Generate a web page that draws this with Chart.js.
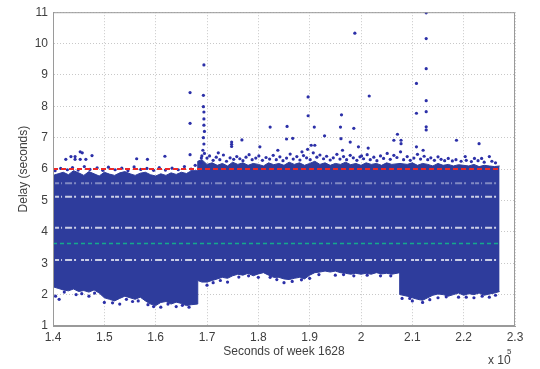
<!DOCTYPE html>
<html>
<head>
<meta charset="utf-8">
<script src="https://cdn.jsdelivr.net/npm/chart.js@4/dist/chart.umd.min.js"></script>
<style>
  html, body { margin: 0; padding: 0; background: #fff; }
  #wrap { width: 540px; height: 369px; }
</style>
</head>
<body>
<div id="wrap"><canvas id="delayChart"></canvas></div>
<script>
// x values are in units of 1e5 seconds of week 1628

// Envelope of the dense delay cloud (lower / upper edge, seconds)
const cloudX = [
  1.40, 1.41, 1.42, 1.43, 1.44, 1.45, 1.46, 1.47, 1.48, 1.49, 1.50, 1.51, 1.52, 1.53,
  1.54, 1.55, 1.56, 1.57, 1.58, 1.59, 1.60, 1.61, 1.62, 1.63, 1.64, 1.65, 1.66, 1.67,
  1.682, 1.682,
  1.69, 1.70, 1.71, 1.72, 1.73, 1.74, 1.75, 1.76, 1.77, 1.78, 1.79, 1.80, 1.81, 1.82,
  1.83, 1.84, 1.85, 1.86, 1.87, 1.88, 1.89, 1.90, 1.91, 1.92, 1.93, 1.94, 1.95, 1.96,
  1.97, 1.98, 1.99, 2.00, 2.01, 2.02, 2.03, 2.04, 2.05, 2.06,
  2.076, 2.076,
  2.09, 2.10, 2.11, 2.12, 2.13, 2.14, 2.15, 2.16, 2.17, 2.18, 2.19, 2.20, 2.21, 2.22,
  2.23, 2.24, 2.25, 2.26, 2.27
];
const cloudLow = [
  2.25, 2.20, 2.15, 2.12, 2.18, 2.10, 2.13, 2.08, 2.15, 2.05, 1.90, 1.85, 1.80, 1.88,
  1.95, 1.90, 1.85, 1.92, 1.80, 1.70, 1.65, 1.75, 1.78, 1.70, 1.76, 1.72, 1.65, 1.68,
  1.70, 2.45,
  2.40, 2.40, 2.45, 2.50, 2.55, 2.52, 2.60, 2.65, 2.62, 2.68, 2.60, 2.66, 2.70, 2.62,
  2.55, 2.55, 2.50, 2.48, 2.52, 2.55, 2.50, 2.62, 2.70, 2.72, 2.75, 2.72, 2.75, 2.70,
  2.68, 2.65, 2.68, 2.65, 2.68, 2.65, 2.70, 2.66, 2.68, 2.65,
  2.70, 2.00,
  1.95, 1.90, 1.85, 1.82, 1.90, 1.98, 2.02, 2.00, 1.95, 2.00, 2.05, 1.98, 2.03, 2.00,
  2.05, 1.98, 2.02, 2.05, 2.10
];
const cloudHigh = [
  5.80, 5.85, 5.90, 5.82, 5.95, 5.88, 5.80, 5.92, 5.85, 5.78, 5.90, 5.84, 5.80, 5.88,
  5.92, 5.85, 5.80, 5.87, 5.90, 5.82, 5.78, 5.85, 5.80, 5.88, 5.83, 5.90, 5.86, 5.95,
  5.95, 6.25,
  6.30, 6.15, 6.20, 6.12, 6.18, 6.10, 6.22, 6.15, 6.20, 6.12, 6.18, 6.15, 6.10, 6.20,
  6.14, 6.18, 6.12, 6.22, 6.15, 6.20, 6.12, 6.18, 6.25, 6.15, 6.20, 6.12, 6.18, 6.15,
  6.22, 6.14, 6.18, 6.12, 6.20, 6.15, 6.18, 6.12, 6.20, 6.15,
  6.18, 6.18,
  6.15, 6.20, 6.12, 6.18, 6.15, 6.10, 6.18, 6.12, 6.15, 6.10, 6.14, 6.12, 6.10, 6.15,
  6.08, 6.12, 6.10, 6.08, 6.10
];

// Sparse delay samples outside the dense cloud [x, delay]
const sparsePoints = [
  [1.988, 10.33], [1.694, 9.32], [1.667, 8.44], [1.693, 8.35], [1.693, 7.99], [1.694, 7.82],
  [1.667, 7.46], [1.897, 8.30], [1.897, 7.70], [1.962, 7.73], [1.823, 7.34], [1.856, 7.36],
  [1.909, 7.34], [1.960, 7.34], [1.986, 7.30], [1.929, 7.06], [1.855, 6.96], [1.867, 6.98],
  [1.768, 6.93], [1.667, 6.46], [1.803, 6.71], [1.748, 6.72], [1.748, 6.86],
  [2.127, 10.98], [2.127, 10.16], [2.127, 9.20], [2.108, 8.73], [2.016, 8.33], [2.127, 8.18],
  [2.108, 7.78], [2.127, 7.83], [2.127, 7.35], [2.127, 7.25], [2.071, 7.11], [2.186, 6.92],
  [2.230, 6.81], [2.108, 6.71], [2.064, 6.92], [2.078, 6.92], [2.078, 6.81], [2.014, 6.67],
  [2.121, 6.60], [2.203, 6.40], [2.221, 6.34], [2.235, 6.34], [2.250, 6.40],
  [1.453, 6.55], [1.457, 6.52], [1.425, 6.31], [1.435, 6.40], [1.443, 6.40], [1.443, 6.31],
  [1.453, 6.31], [1.464, 6.31], [1.476, 6.43], [1.563, 6.33], [1.584, 6.31], [1.618, 6.41],
  [1.694, 7.60], [1.694, 7.40], [1.695, 7.20], [1.693, 7.00], [1.694, 6.80], [1.692, 6.60],
  [1.695, 6.50], [1.722, 6.52], [1.838, 6.60], [1.903, 6.76], [1.910, 6.76], [1.896, 6.63],
  [1.885, 6.55], [1.961, 6.97], [1.979, 6.86], [1.964, 6.60], [1.995, 6.71], [2.001, 6.42],
  [1.748, 6.79],
  [1.700, 6.35], [1.705, 6.42], [1.712, 6.28], [1.718, 6.38], [1.725, 6.30], [1.732, 6.45],
  [1.738, 6.25], [1.745, 6.36], [1.752, 6.31], [1.758, 6.40], [1.764, 6.33], [1.770, 6.27],
  [1.776, 6.38], [1.782, 6.46], [1.788, 6.30], [1.795, 6.35], [1.801, 6.42], [1.808, 6.28],
  [1.815, 6.37], [1.822, 6.32], [1.829, 6.44], [1.835, 6.30], [1.842, 6.39], [1.848, 6.27],
  [1.855, 6.35], [1.862, 6.48], [1.868, 6.32], [1.875, 6.40], [1.881, 6.29], [1.888, 6.43],
  [1.894, 6.36], [1.901, 6.30], [1.907, 6.52], [1.914, 6.38], [1.920, 6.45], [1.927, 6.33],
  [1.933, 6.41], [1.940, 6.29], [1.946, 6.36], [1.953, 6.47], [1.959, 6.32], [1.966, 6.40],
  [1.972, 6.30], [1.979, 6.44], [1.985, 6.36], [1.992, 6.28], [1.998, 6.39], [2.005, 6.33],
  [2.012, 6.46], [2.018, 6.30], [2.025, 6.38], [2.031, 6.27], [2.038, 6.42], [2.044, 6.34],
  [2.051, 6.50], [2.057, 6.31], [2.064, 6.44], [2.070, 6.37], [2.077, 6.55], [2.083, 6.30],
  [2.090, 6.40], [2.096, 6.28], [2.103, 6.35], [2.110, 6.47], [2.116, 6.32], [2.123, 6.41],
  [2.130, 6.30], [2.136, 6.36], [2.143, 6.28], [2.150, 6.39], [2.156, 6.31], [2.163, 6.27],
  [2.170, 6.34], [2.178, 6.26], [2.185, 6.30], [2.195, 6.25], [2.205, 6.28], [2.215, 6.24],
  [2.228, 6.27], [2.240, 6.22], [2.255, 6.25], [2.262, 6.20],
  // just above the cloud top, left part
  [1.404, 5.95], [1.415, 6.02], [1.428, 5.98], [1.438, 6.05], [1.449, 5.97], [1.461, 6.08],
  [1.472, 5.99], [1.486, 6.04], [1.497, 5.96], [1.508, 6.06], [1.521, 5.98], [1.534, 6.03],
  [1.546, 5.95], [1.558, 6.07], [1.571, 5.99], [1.583, 6.02], [1.596, 5.96], [1.607, 6.05],
  [1.619, 5.97], [1.632, 6.03], [1.644, 5.98], [1.656, 6.08], [1.669, 6.00], [1.677, 6.12],
  [1.688, 6.20], [1.689, 6.35], [1.690, 6.42],
  // just below the cloud bottom
  [1.405, 1.95], [1.412, 1.85], [1.445, 2.00], [1.470, 1.95], [1.500, 1.75], [1.530, 1.70],
  [1.555, 1.78], [1.585, 1.68], [1.610, 1.60], [1.640, 1.62], [1.665, 1.60], [1.700, 2.30],
  [1.740, 2.40], [1.800, 2.55], [1.850, 2.38], [1.900, 2.52], [1.950, 2.62], [2.080, 1.88],
  [2.100, 1.80], [2.120, 1.75], [2.150, 1.90], [2.190, 1.92], [2.220, 1.90], [2.250, 1.92],
  [1.422, 2.08], [1.456, 2.03], [1.481, 2.05], [1.516, 1.74], [1.543, 1.85], [1.566, 1.80],
  [1.596, 1.62], [1.624, 1.70], [1.652, 1.66], [1.712, 2.38], [1.726, 2.45], [1.762, 2.56],
  [1.781, 2.60], [1.823, 2.55], [1.836, 2.48], [1.866, 2.42], [1.884, 2.47], [1.918, 2.64],
  [1.966, 2.64], [1.986, 2.60], [2.012, 2.62], [2.038, 2.60], [2.058, 2.60], [2.095, 1.88],
  [2.134, 1.84], [2.166, 1.93], [2.205, 1.92], [2.236, 1.95], [2.262, 1.98]
];

// Sparse horizontal bands inside the cloud
const gapLevels = [3.10, 4.13, 5.12, 5.55];

// Reference levels
const upperLevel = 6.0;
const meanLevel = 3.63;
const spanX = [1.40, 2.27];

const xTicks = [1.4, 1.5, 1.6, 1.7, 1.8, 1.9, 2.0, 2.1, 2.2, 2.3];

const cloudColor = 'rgb(46, 60, 156)';
const dotColor = 'rgb(44, 48, 168)';

// Plot frame (top and right edges, like the reference box)
const framePlugin = {
  id: 'frame',
  afterDraw(chart) {
    const { ctx, chartArea } = chart;
    ctx.save();
    ctx.strokeStyle = '#9a9a9a';
    ctx.lineWidth = 1;
    ctx.strokeRect(chartArea.left + 0.5, chartArea.top + 0.5,
      chartArea.right - chartArea.left - 1, chartArea.bottom - chartArea.top - 1);
    // x 10^5 multiplier
    ctx.fillStyle = '#404040';
    ctx.font = '12px "Liberation Sans", Arial, sans-serif';
    ctx.textBaseline = 'alphabetic';
    ctx.fillText('x 10', chartArea.right - 27, 364);
    ctx.font = '8px "Liberation Sans", Arial, sans-serif';
    ctx.fillText('5', chartArea.right - 8, 354);
    ctx.restore();
  }
};

function levelLine(y, x0, x1) {
  return [{ x: x0, y: y }, { x: x1, y: y }];
}

const datasets = [];

datasets.push({
  label: 'upper',
  data: levelLine(upperLevel, spanX[0], spanX[1]),
  borderColor: 'rgb(235, 40, 40)',
  borderWidth: 2,
  borderDash: [5, 3],
  pointRadius: 0,
  order: 0
});
datasets.push({
  label: 'mean',
  data: levelLine(meanLevel, spanX[0], spanX[1]),
  borderColor: 'rgb(20, 170, 140)',
  borderWidth: 1.6,
  borderDash: [4, 3],
  pointRadius: 0,
  order: 1
});
datasets.push({
  label: 'sparse',
  data: sparsePoints.map(p => ({ x: p[0], y: p[1] })),
  showLine: false,
  pointRadius: 1.6,
  pointBorderWidth: 0,
  pointBackgroundColor: dotColor,
  order: 2
});
gapLevels.forEach((g, i) => {
  datasets.push({
    label: 'gap' + i,
    data: levelLine(g, spanX[0] + 0.004, spanX[1] - 0.004),
    borderColor: i === 3 ? 'rgba(255,255,255,0.4)' : 'rgba(255,255,255,0.75)',
    borderWidth: 2,
    borderDash: [4, 2, 1, 3, 7, 2, 2, 5, 3, 1],
    pointRadius: 0,
    order: 3
  });
});
datasets.push({
  label: 'cloudHigh',
  data: cloudX.map((x, i) => ({ x: x, y: cloudHigh[i] })),
  borderColor: cloudColor,
  borderWidth: 1,
  backgroundColor: cloudColor,
  pointRadius: 0,
  fill: '+1',
  order: 10
});
datasets.push({
  label: 'cloudLow',
  data: cloudX.map((x, i) => ({ x: x, y: cloudLow[i] })),
  borderColor: cloudColor,
  borderWidth: 1,
  pointRadius: 0,
  fill: false,
  order: 11
});

const tickFont = { family: '"Liberation Sans", Arial, sans-serif', size: 12 };

new Chart(document.getElementById('delayChart'), {
  type: 'line',
  data: { datasets: datasets },
  options: {
    responsive: true,
    maintainAspectRatio: false,
    animation: false,
    layout: { padding: { left: 0, top: 6, right: 25, bottom: 0 } },
    plugins: {
      legend: { display: false },
      tooltip: { enabled: false }
    },
    scales: {
      x: {
        type: 'linear',
        min: 1.4,
        max: 2.3,
        afterFit: s => { s.height = 43; },
        afterBuildTicks: s => { s.ticks = xTicks.map(v => ({ value: v })); },
        ticks: {
          color: '#404040',
          font: tickFont,
          padding: 4,
          maxRotation: 0,
          callback: v => String(Number(v.toFixed(1)))
        },
        grid: { color: '#c8c8c8', drawTicks: false },
        border: { color: '#9a9a9a', dash: [1, 2] },
        title: {
          display: true,
          text: 'Seconds of week 1628',
          color: '#404040',
          font: tickFont,
          padding: { top: 0, bottom: 10 }
        }
      },
      y: {
        min: 1,
        max: 11,
        afterFit: s => { s.width = 53; },
        ticks: { stepSize: 1, color: '#404040', font: tickFont, padding: 5 },
        grid: { color: '#c8c8c8', drawTicks: false },
        border: { color: '#9a9a9a', dash: [1, 2] },
        title: {
          display: true,
          text: 'Delay (seconds)',
          color: '#404040',
          font: tickFont,
          padding: { top: 16, bottom: 0 }
        }
      }
    }
  },
  plugins: [framePlugin]
});
</script>
</body>
</html>
